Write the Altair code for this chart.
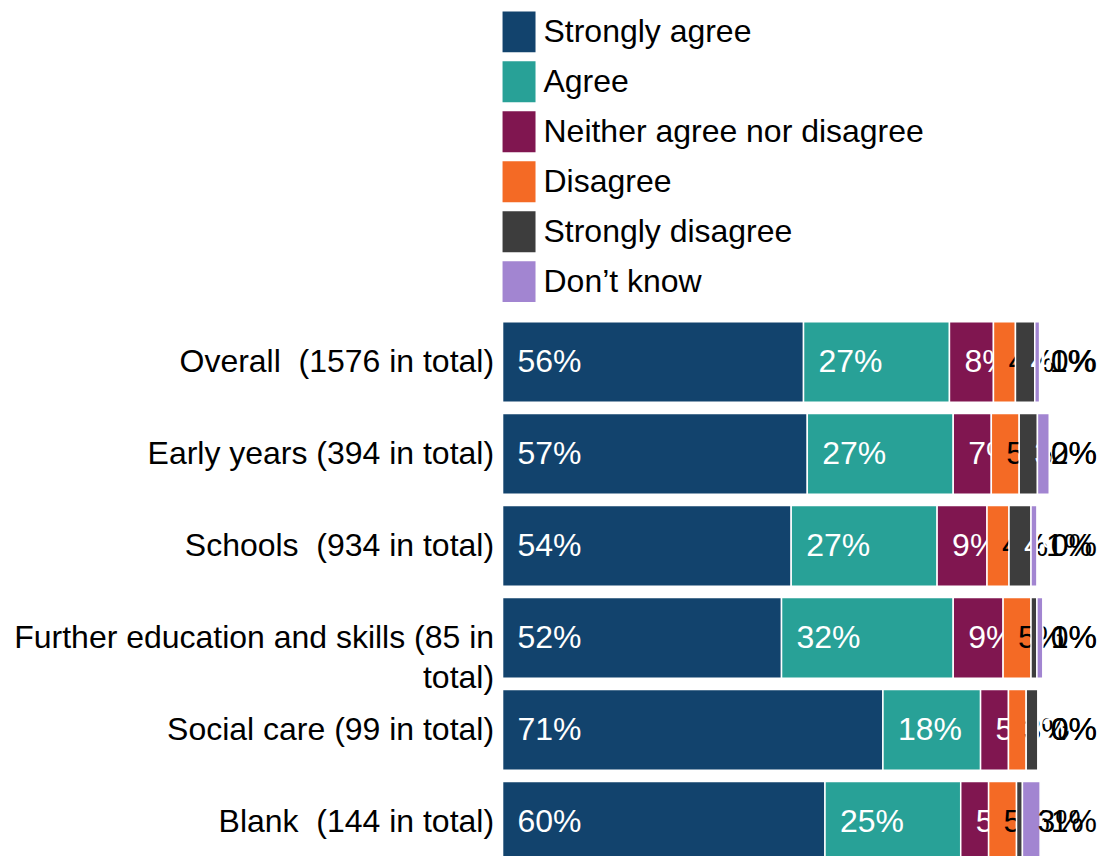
import altair as alt
import pandas as pd

groups = [
    "Overall  (1576 in total)",
    "Early years (394 in total)",
    "Schools  (934 in total)",
    "Further education and skills (85 in total)",
    "Social care (99 in total)",
    "Blank  (144 in total)",
]
responses = [
    "Strongly agree",
    "Agree",
    "Neither agree nor disagree",
    "Disagree",
    "Strongly disagree",
    "Don\u2019t know",
    "No response",
]
colors = ["#12436D", "#28A197", "#801650", "#F46A25", "#3D3D3D", "#A285D1"]
text_colors = ["white", "white", "white", "black", "white", "black", "black"]

strongly_agree = [56.1, 56.8, 53.8, 52.0, 70.9, 60.1]
agree = [27.2, 27.2, 27.2, 32.0, 18.2, 25.3]
neither = [8.2, 7.1, 9.3, 9.3, 5.2, 5.2]
disagree = [4.1, 5.2, 4.1, 5.2, 3.3, 5.2]
strongly_disagree = [3.6, 3.4, 4.1, 1.1, 2.2, 1.1]
dont_know = [0.9, 2.2, 1.1, 1.1, 0.0, 3.3]
no_response = [0.0, 0.0, 0.0, 0.0, 0.0, 1.0]

series = [strongly_agree, agree, neither, disagree, strongly_disagree, dont_know, no_response]

# data labels are kept inside the chart area (justified at its right edge)
LABEL_LIMIT = 99.4

rows = []
for ri, (resp, vals) in enumerate(zip(responses, series)):
    for g, v in zip(groups, vals):
        rows.append({"group": g, "response": resp, "order": ri, "value": v})
df = pd.DataFrame(rows)

FONT = "Liberation Sans"
FS = 32
fe_label = "Further education and skills (85 in total)"

y_enc = alt.Y(
    "group:N",
    sort=groups,
    title=None,
    scale=alt.Scale(paddingInner=0.123, paddingOuter=0.06),
    axis=alt.Axis(
        labelFontSize=FS,
        labelFont=FONT,
        labelColor="black",
        labelPadding=9,
        ticks=False,
        domain=False,
        grid=False,
        labelLimit=700,
        labelLineHeight=40,
        labelExpr=(
            f"datum.value == '{fe_label}' ? ['Further education and skills (85 in', 'total)'] "
            ": replace(datum.value, '  ', ' \u00a0')"
        ),
    ),
)
x_scale = alt.Scale(domain=[0, 100], nice=False, zero=True)

base = (
    alt.Chart(df)
    .transform_stack(
        stack="value",
        groupby=["group"],
        sort=[alt.SortField("order", order="ascending")],
        as_=["x0", "x1"],
    )
    .transform_calculate(
        label="format(datum.value, '.0f') + '%'",
        lx=f"min(datum.x0, {LABEL_LIMIT})",
    )
)

color_enc = alt.Color(
    "response:N",
    scale=alt.Scale(domain=responses[:6], range=colors),
    legend=alt.Legend(
        title=None,
        orient="none",
        legendX=-4,
        legendY=-305,
        direction="vertical",
        columns=1,
        symbolType="M-0.805,-1H0.805V1H-0.805Z",
        symbolSize=1681,
        symbolStrokeWidth=0,
        symbolOpacity=1,
        labelFontSize=FS,
        labelFont=FONT,
        labelColor="black",
        labelOffset=4,
        rowPadding=9,
        labelLimit=600,
    ),
)

layers = []
for i, resp in enumerate(responses):
    filt = base.transform_filter(alt.datum.order == i)
    if i < 6:
        layers.append(
            filt.mark_bar(stroke="white", strokeWidth=1.5).encode(
                y=y_enc,
                x=alt.X("x0:Q", scale=x_scale, axis=None),
                x2="x1:Q",
                color=color_enc,
            )
        )
    layers.append(
        filt.mark_text(
            align="left",
            baseline="middle",
            dx=15,
            fontSize=FS,
            font=FONT,
            color=text_colors[i],
        ).encode(
            y=y_enc,
            x=alt.X("lx:Q", scale=x_scale, axis=None),
            text="label:N",
        )
    )

chart = (
    alt.layer(*layers)
    .properties(
        width=537,
        height=552,
        padding={"left": 5, "top": 3, "right": 0, "bottom": 0},
    )
    .configure(font=FONT)
    .configure_view(stroke=None, strokeWidth=0)
)

chart.save("out.html", embed_options={"renderer": "svg", "actions": False})
